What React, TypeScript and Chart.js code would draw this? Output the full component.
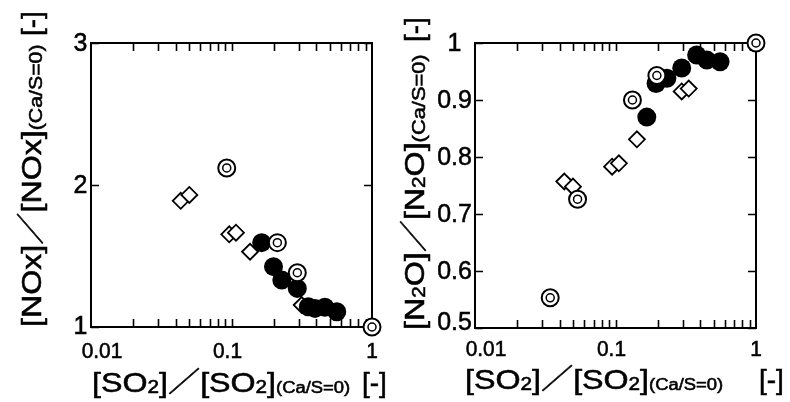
import React, { useEffect, useRef } from "react";
import { Chart, registerables } from "chart.js";

Chart.register(...registerables);

// ---------- data ----------
// Left panel: [NOx]/[NOx](Ca/S=0) vs [SO2]/[SO2](Ca/S=0)
const NOX_DOUBLE_X = [0.0925, 0.212, 0.294, 1.0];
const NOX_DOUBLE_Y = [2.12, 1.594, 1.382, 1.0];
const NOX_DIAMOND_X = [0.0435, 0.0501, 0.0964, 0.1076, 0.1355, 0.316];
const NOX_DIAMOND_Y = [1.889, 1.93, 1.653, 1.664, 1.53, 1.155];
const NOX_FILLED_X = [0.164, 0.199, 0.228, 0.294, 0.352, 0.393, 0.462, 0.561];
const NOX_FILLED_Y = [1.594, 1.425, 1.331, 1.272, 1.143, 1.131, 1.139, 1.108];

// Right panel: [N2O]/[N2O](Ca/S=0) vs [SO2]/[SO2](Ca/S=0)
const N2O_DOUBLE_X = [0.0343, 0.0537, 0.132, 0.197, 1.0];
const N2O_DOUBLE_Y = [0.553, 0.726, 0.9, 0.943, 1.0];
const N2O_DIAMOND_X = [0.0432, 0.0498, 0.0946, 0.1057, 0.142, 0.296, 0.332];
const N2O_DIAMOND_Y = [0.757, 0.748, 0.783, 0.789, 0.831, 0.915, 0.92];
const N2O_FILLED_X = [0.167, 0.1945, 0.232, 0.296, 0.378, 0.447, 0.555];
const N2O_FILLED_Y = [0.87, 0.929, 0.938, 0.956, 0.979, 0.97, 0.967];

// axes
const X_LABEL_VALUES = [0.01, 0.1, 1];
const X_LABELS = ["0.01", "0.1", "1"];
const X_MINOR_TICKS = [0.02, 0.03, 0.04, 0.05, 0.06, 0.07, 0.08, 0.09, 0.1, 0.2, 0.3, 0.4, 0.5, 0.6, 0.7, 0.8, 0.9];
const NOX_Y_TICKS = [1, 2, 3];
const NOX_Y_LABELS = ["1", "2", "3"];
const N2O_Y_TICKS = [0.5, 0.6, 0.7, 0.8, 0.9, 1.0];
const N2O_Y_LABELS = ["0.5", "0.6", "0.7", "0.8", "0.9", "1"];

// ---------- styles ----------
const FONT = '"Liberation Sans", Arial, Helvetica, sans-serif';
const CJK = '"Noto Sans CJK JP", "Noto Sans CJK SC", sans-serif';
const X_LABEL_DX = [11, -4, 0];
const TITLE_STRETCH = 1.15;
const TEXT_WEIGHT = 0.55; // faint outline to match the heavier print-like text

type Run = { t: string; f: number; font?: string; dy?: number };

function paintText(ctx: CanvasRenderingContext2D, t: string, x: number, y: number) {
  ctx.fillText(t, x, y);
  ctx.lineWidth = TEXT_WEIGHT;
  ctx.strokeStyle = "#000";
  ctx.strokeText(t, x, y);
}

function drawRuns(ctx: CanvasRenderingContext2D, runs: Run[], x: number, y: number, rot: boolean, stretch: number) {
  ctx.save();
  ctx.translate(x, y);
  if (rot) ctx.rotate(-Math.PI / 2);
  ctx.scale(stretch, 1);
  ctx.textBaseline = "alphabetic";
  ctx.textAlign = "left";
  ctx.fillStyle = "#000";
  let cx = 0;
  for (const r of runs) {
    ctx.font = `${r.f}px ${r.font || FONT}`;
    paintText(ctx, r.t, cx, r.dy || 0);
    cx += ctx.measureText(r.t).width;
  }
  ctx.restore();
}

function drawLabel(ctx: CanvasRenderingContext2D, t: string, cx: number, baseline: number, size: number, sx: number) {
  ctx.save();
  ctx.translate(cx, baseline);
  ctx.scale(sx, 1);
  ctx.font = `${size}px ${FONT}`;
  ctx.textAlign = "center";
  ctx.textBaseline = "alphabetic";
  ctx.fillStyle = "#000";
  paintText(ctx, t, 0, 0);
  ctx.restore();
}

function xTitleRuns(): Run[] {
  return [
    { t: "[SO", f: 28 },
    { t: "2", f: 18, dy: 1 },
    { t: "]", f: 28 },
    { t: "／", f: 28, font: CJK },
    { t: "[SO", f: 28 },
    { t: "2", f: 18, dy: 1 },
    { t: "]", f: 28 },
    { t: "(Ca/S=0)", f: 16, dy: 1 },
  ];
}

type PanelCfg = {
  yTicks: number[];
  yLabels: string[];
  yMin: number;
  yMax: number;
  padding: { left: number; right: number; top: number; bottom: number };
  yLabelCx: number;
  bottomLabelDy: number;
  xLabelGap: number;
  xTitle: { x: number; y: number; dashX: number };
  yTitleRuns: Run[];
  yTitle: { x: number; y: number; dashY: number };
};

function makeFramePlugin(cfg: PanelCfg) {
  return {
    id: "frameAndText",
    beforeDatasetsDraw(chart: any) {
      const ctx: CanvasRenderingContext2D = chart.ctx;
      const a = chart.chartArea;
      const xs = chart.scales.x;
      const ys = chart.scales.y;
      ctx.save();
      ctx.strokeStyle = "#000";
      // ticks
      ctx.lineWidth = 1.6;
      const TL = 8;
      ctx.beginPath();
      for (const v of X_MINOR_TICKS) {
        const px = Math.round(xs.getPixelForValue(v)) + 0.5;
        ctx.moveTo(px, a.bottom);
        ctx.lineTo(px, a.bottom - TL);
        ctx.moveTo(px, a.top);
        ctx.lineTo(px, a.top + TL);
      }
      for (const v of cfg.yTicks) {
        const py = Math.round(ys.getPixelForValue(v)) + 0.5;
        ctx.moveTo(a.left, py);
        ctx.lineTo(a.left + TL, py);
        ctx.moveTo(a.right, py);
        ctx.lineTo(a.right - TL, py);
      }
      ctx.stroke();
      // frame
      ctx.lineWidth = 2;
      ctx.strokeRect(a.left, a.top, a.right - a.left, a.bottom - a.top);
      ctx.restore();
      // tick labels
      X_LABEL_VALUES.forEach((v, i) => {
        drawLabel(ctx, X_LABELS[i], xs.getPixelForValue(v) + X_LABEL_DX[i], a.bottom + cfg.xLabelGap, 22, 0.95);
      });
      cfg.yTicks.forEach((v, i) => {
        const dy = i === 0 ? cfg.bottomLabelDy : -1;
        drawLabel(ctx, cfg.yLabels[i], cfg.yLabelCx, ys.getPixelForValue(v) + dy + 9.3, 26, 0.96);
      });
      // titles
      drawRuns(ctx, xTitleRuns(), cfg.xTitle.x, cfg.xTitle.y, false, TITLE_STRETCH);
      drawRuns(ctx, [{ t: "[-]", f: 28 }], cfg.xTitle.dashX, cfg.xTitle.y, false, 1);
      drawRuns(ctx, cfg.yTitleRuns, cfg.yTitle.x, cfg.yTitle.y, true, TITLE_STRETCH);
      drawRuns(ctx, [{ t: "[-]", f: 28 }], cfg.yTitle.x, cfg.yTitle.dashY, true, 1);
    },
  };
}

function pts(xs: number[], ys: number[]) {
  return xs.map((x, i) => ({ x, y: ys[i] }));
}

function buildChart(canvas: HTMLCanvasElement, cfg: PanelCfg, dbl: any[], dia: any[], fil: any[]) {
  return new Chart(canvas, {
    type: "scatter",
    data: {
      datasets: [
        { data: dbl, pointStyle: "circle", pointRadius: 4, borderWidth: 1.5, borderColor: "#000", backgroundColor: "#fff", order: 0, clip: false } as any,
        { data: dbl, pointStyle: "circle", pointRadius: 8.5, borderWidth: 2, borderColor: "#000", backgroundColor: "#fff", order: 1, clip: false } as any,
        { data: fil, pointStyle: "circle", pointRadius: 9.5, borderWidth: 0, borderColor: "#000", backgroundColor: "#000", order: 2, clip: false } as any,
        { data: dia, pointStyle: "rectRot", pointRadius: 8, borderWidth: 1.8, borderColor: "#000", backgroundColor: "#fff", order: 3, clip: false } as any,
      ],
    },
    options: {
      animation: false,
      responsive: false,
      maintainAspectRatio: false,
      devicePixelRatio: 1,
      layout: { padding: cfg.padding },
      plugins: { legend: { display: false }, tooltip: { enabled: false } },
      events: [],
      scales: {
        x: { type: "logarithmic", min: 0.01, max: 1, display: false },
        y: { type: "linear", min: cfg.yMin, max: cfg.yMax, display: false },
      },
    },
    plugins: [makeFramePlugin(cfg)],
  } as any);
}

const LEFT_CFG: PanelCfg = {
  yTicks: NOX_Y_TICKS,
  yLabels: NOX_Y_LABELS,
  yMin: 1,
  yMax: 3,
  padding: { left: 91, right: 23, top: 43, bottom: 75 },
  yLabelCx: 80.5,
  bottomLabelDy: -2,
  xLabelGap: 31,
  xTitle: { x: 92, y: 392, dashX: 362 },
  yTitleRuns: [
    { t: "[NOx]", f: 28 },
    { t: "／", f: 28, font: CJK },
    { t: "[NOx]", f: 28 },
    { t: "(Ca/S=0)", f: 18.5, dy: 1 },
  ],
  yTitle: { x: 41, y: 327, dashY: 36 },
};

const RIGHT_CFG: PanelCfg = {
  yTicks: N2O_Y_TICKS,
  yLabels: N2O_Y_LABELS,
  yMin: 0.5,
  yMax: 1,
  padding: { left: 80, right: 34, top: 43, bottom: 74 },
  yLabelCx: 59.5,
  bottomLabelDy: -7,
  xLabelGap: 28,
  xTitle: { x: 70, y: 389, dashX: 364 },
  yTitleRuns: [
    { t: "[N", f: 28 },
    { t: "2", f: 18, dy: 1 },
    { t: "O]", f: 28 },
    { t: "／", f: 28, font: CJK },
    { t: "[N", f: 28 },
    { t: "2", f: 18, dy: 1 },
    { t: "O]", f: 28 },
    { t: "(Ca/S=0)", f: 19, dy: 1 },
  ],
  yTitle: { x: 29, y: 330, dashY: 42 },
};

export default function App() {
  const leftRef = useRef<HTMLCanvasElement>(null);
  const rightRef = useRef<HTMLCanvasElement>(null);

  useEffect(() => {
    const c1 = buildChart(
      leftRef.current!,
      LEFT_CFG,
      pts(NOX_DOUBLE_X, NOX_DOUBLE_Y),
      pts(NOX_DIAMOND_X, NOX_DIAMOND_Y),
      pts(NOX_FILLED_X, NOX_FILLED_Y)
    );
    const c2 = buildChart(
      rightRef.current!,
      RIGHT_CFG,
      pts(N2O_DOUBLE_X, N2O_DOUBLE_Y),
      pts(N2O_DIAMOND_X, N2O_DIAMOND_Y),
      pts(N2O_FILLED_X, N2O_FILLED_Y)
    );
    return () => {
      c1.destroy();
      c2.destroy();
    };
  }, []);

  return (
    <div style={{ position: "fixed", left: 0, top: 0, width: 790, height: 402, background: "#fff", overflow: "hidden" }}>
      <canvas ref={leftRef} width={395} height={402} style={{ position: "absolute", left: 0, top: 0, width: 395, height: 402 }} />
      <canvas ref={rightRef} width={395} height={402} style={{ position: "absolute", left: 395, top: 0, width: 395, height: 402 }} />
    </div>
  );
}
